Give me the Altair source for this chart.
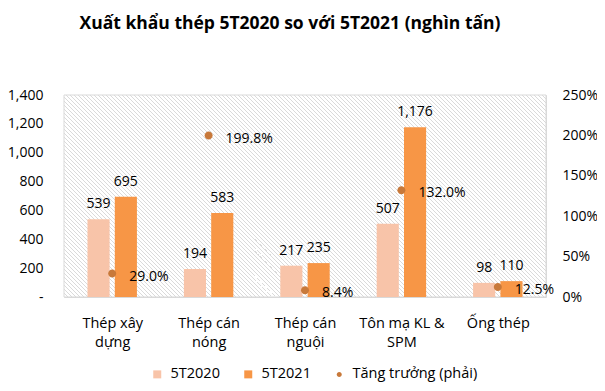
import altair as alt
import pandas as pd

# ---------------- data ----------------
categories = ["Thép xây dựng", "Thép cán nóng", "Thép cán nguội", "Tôn mạ KL & SPM", "Ống thép"]
label_lines = [["Thép xây", "dựng"], ["Thép cán", "nóng"], ["Thép cán", "nguội"], ["Tôn mạ KL &", "SPM"], ["Ống thép"]]
vals_2020 = [539, 194, 217, 507, 98]
vals_2021 = [695, 583, 235, 1176, 110]
growth = [0.290, 1.998, 0.084, 1.320, 0.125]
series_names = ["5T2020", "5T2021", "Tăng trưởng (phải)"]
left_ticks = [0, 200, 400, 600, 800, 1000, 1200, 1400]
right_ticks = [0, 0.5, 1.0, 1.5, 2.0, 2.5]

colors = ["#F8C4A9", "#F79646", "#C8793A"]
FONT = "Open Sans"
W, H = 482, 202

bars_df = pd.DataFrame(
    [{"cat": c, "series": series_names[0], "value": v} for c, v in zip(categories, vals_2020)]
    + [{"cat": c, "series": series_names[1], "value": v} for c, v in zip(categories, vals_2021)]
)
growth_df = pd.DataFrame({"cat": categories, "series": series_names[2], "growth": growth})

# x label expression (multi-line)
expr = "''"
for c, lines in reversed(list(zip(categories, label_lines))):
    arr = "[" + ",".join("'" + l + "'" for l in lines) + "]"
    expr = f"datum.label == '{c}' ? {arr} : ({expr})"

# hatched background via striped gradient (lines at 45 degrees)
P = 4.0
span = W + H
stops = []
k = 0
while k * P < span:
    o1 = k * P / span
    o2 = min((k * P + 1.0) / span, 1.0)
    stops += [
        alt.GradientStop(offset=o1, color="#ffffff"),
        alt.GradientStop(offset=o1, color="#dadada"),
        alt.GradientStop(offset=o2, color="#dadada"),
        alt.GradientStop(offset=o2, color="#ffffff"),
    ]
    k += 1
kk = span / (W * W + H * H)
grad = alt.LinearGradient(gradient="linear", stops=stops, x1=0, y1=1, x2=W * kk, y2=1 - H * kk)

x_enc = alt.X(
    "cat:N",
    sort=categories,
    scale=alt.Scale(paddingInner=0, paddingOuter=0),
    axis=alt.Axis(
        title=None, labelAngle=0, ticks=False, domain=False, grid=True, tickBand="extent",
        gridColor="#d9d9d9", labelExpr=expr, labelFont=FONT, labelFontSize=14.5,
        labelColor="#000000", labelPadding=26, labelLineHeight=19, labelBaseline="middle",
    ),
)

bg = alt.Chart(pd.DataFrame({"a": [0]})).mark_rect(
    fill=grad, stroke="#d9d9d9", strokeWidth=1
).encode(x=alt.value(0), x2=alt.value(W), y=alt.value(0), y2=alt.value(H))

shape_sq = "M-1,-1H1V1H-1Z"
shape_ci = "M0.625,0A0.625,0.625,0,1,1,-0.625,0A0.625,0.625,0,1,1,0.625,0"

color_enc = alt.Color(
    "series:N",
    scale=alt.Scale(domain=series_names, range=colors),
    legend=alt.Legend(
        title=None, orient="none", direction="horizontal", legendX=86, legendY=272,
        labelFont=FONT, labelFontSize=14.5, labelColor="#000000", symbolSize=64,
        columnPadding=21, labelOffset=6, padding=0, symbolStrokeWidth=0,
    ),
)

y_left = alt.Y(
    "value:Q",
    scale=alt.Scale(domain=[0, 1400], nice=False),
    axis=alt.Axis(
        title=None, orient="left", values=left_ticks, grid=False, ticks=False, domain=False,
        labelExpr="datum.value == 0 ? '-' : format(datum.value, ',')",
        labelFont=FONT, labelFontSize=14, labelColor="#000000", labelPadding=21,
    ),
)

xoff = alt.XOffset("series:N", sort=series_names[:2],
                   scale=alt.Scale(paddingInner=0.19, paddingOuter=0.86))

bars = alt.Chart(bars_df).mark_bar().encode(
    x=x_enc, xOffset=xoff, y=y_left, color=color_enc,
)
bar_labels = alt.Chart(bars_df).mark_text(
    font=FONT, fontSize=14, color="#000000", baseline="alphabetic", dy=-11
).encode(
    x=x_enc, xOffset=xoff, y=y_left, text=alt.Text("value:Q", format=","),
)
left = alt.layer(bars, bar_labels)

y_right = alt.Y(
    "growth:Q",
    scale=alt.Scale(domain=[0, 2.5], nice=False),
    axis=alt.Axis(
        title=None, orient="right", values=right_ticks, format=".0%", grid=True,
        gridColor="#d9d9d9", ticks=False, domain=False, labelFont=FONT, labelFontSize=14,
        labelColor="#000000", labelPadding=16,
    ),
)
dots = alt.Chart(growth_df).mark_point(filled=True, opacity=1, size=164).encode(
    x=x_enc,
    y=y_right,
    color=color_enc,
    shape=alt.Shape("series:N", scale=alt.Scale(domain=series_names, range=[shape_sq, shape_sq, shape_ci]),
                    legend=None),
)
dot_labels = alt.Chart(growth_df).mark_text(
    font=FONT, fontSize=14, color="#000000", align="left", baseline="middle", dx=17, dy=3
).encode(
    x=x_enc, y=y_right, text=alt.Text("growth:Q", format=".1%"),
)
right = alt.layer(dots, dot_labels)

chart = alt.layer(bg, left, right).resolve_scale(y="independent").properties(
    width=W,
    height=H,
    title=alt.TitleParams(
        "Xuất khẩu thép 5T2020 so với 5T2021 (nghìn tấn)", font=FONT, fontSize=17.5,
        fontWeight="bold", color="#000000", anchor="middle", baseline="alphabetic",
        offset=42, dx=-15,
    ),
    autosize=alt.AutoSizeParams(type="none"),
    padding={"left": 56, "top": 87, "right": 51, "bottom": 86},
).configure_view(stroke=None)

chart.save("out.html", embed_options={"renderer": "svg", "actions": False})
